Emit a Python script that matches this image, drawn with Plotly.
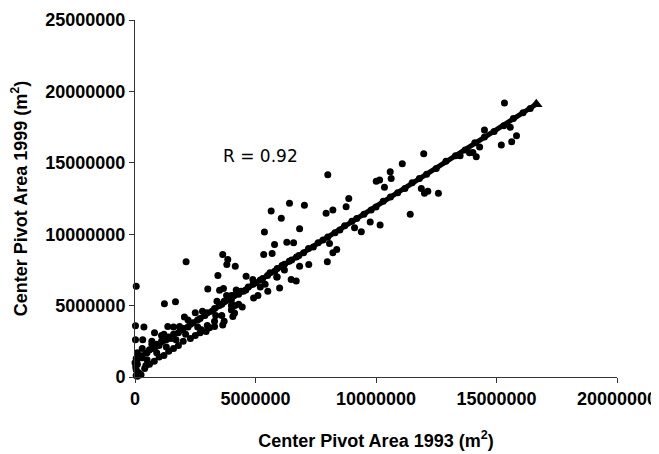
import plotly.graph_objects as go

# Observed center pivot areas (m^2): 1993 (x) vs 1999 (y)
area_1993 = [
    50000, 20000, 370000, 20000, 320000, 810000, 1220000, 1680000, 2120000, 2050000,
    1360000, 1850000, 3020000, 3440000, 3640000, 3850000, 3810000, 4160000, 3510000, 3670000,
    3640000, 3300000, 3090000, 2750000, 2950000, 4130000, 4060000, 4610000, 4890000, 4920000,
    5100000, 5510000, 5370000, 5650000, 6070000, 6410000, 7030000, 5340000, 5690000, 5790000,
    6300000, 6580000, 6830000, 6000000, 6480000, 6690000, 7210000, 6830000, 7980000, 8210000,
    8370000, 8070000, 7930000, 8210000, 8760000, 8870000, 9390000, 9760000, 10170000, 9110000,
    11420000, 8000000, 10010000, 10150000, 10590000, 10630000, 11090000, 11980000, 10350000, 11880000,
    12010000, 12150000, 12590000, 13490000, 14020000, 14160000, 14500000, 15200000, 15630000, 15830000,
    15330000, 15570000, 4000000, 5880000, 4450000, 3700000, 6200000, 4150000, 4000000, 3350000,
    5200000, 5400000, 13880000, 14300000, 5900000,
    # near the regression line
    100000, 200000, 300000, 500000, 600000, 800000, 900000, 1000000, 1100000, 1300000,
    1400000, 1500000, 1600000, 1800000, 1900000, 2000000, 2200000, 2300000, 2400000, 2600000,
    2700000, 2900000, 3000000, 3200000, 3300000, 3500000, 3600000, 3700000, 3900000, 4000000,
    4100000, 4300000, 4400000, 4600000, 4700000, 4900000, 5000000, 5200000, 5300000, 5500000,
    5600000, 5800000, 5900000, 6100000, 6200000, 6400000, 6500000, 6700000, 6800000, 7000000,
    7200000, 7400000, 7600000, 7800000, 8000000, 8300000, 8500000, 8700000, 9000000, 9200000,
    9500000, 9800000, 10000000, 10300000, 10600000, 10900000, 11200000, 11500000, 11800000, 12100000,
    12500000, 12900000, 13300000, 13700000, 14100000, 14500000, 14900000, 15300000, 15700000, 16100000,
    16400000,
    # lower band near the origin
    50000, 100000, 200000, 50000, 100000, 50000, 100000, 400000, 600000, 800000,
    1000000, 1200000, 1400000, 1600000, 1800000, 2000000, 2300000, 2500000, 2700000, 3000000,
    3300000, 3600000, 4000000, 4300000, 500000, 900000, 1300000, 1700000, 2100000, 2600000,
    300000, 700000, 1200000, 1600000, 2200000, 150000, 250000, 0, 30000, 450000,
    3800000, 4200000, 4500000, 3400000, 2800000, 1100000, 700000, 2500000,
]
area_1999 = [
    6350000, 3590000, 3500000, 2600000, 2600000, 3090000, 5130000, 5270000, 8070000, 4200000,
    3540000, 3540000, 6170000, 7100000, 8580000, 8230000, 7880000, 7760000, 6070000, 6190000,
    3640000, 3540000, 3450000, 3310000, 3190000, 4480000, 4240000, 7050000, 6820000, 5530000,
    5700000, 6000000, 10150000, 11620000, 11110000, 12170000, 12030000, 8580000, 8650000, 9280000,
    9440000, 9400000, 10390000, 6240000, 6820000, 6730000, 7880000, 7760000, 8070000, 8700000,
    8930000, 9350000, 11460000, 11690000, 11930000, 12500000, 10180000, 10850000, 10640000, 10460000,
    11390000, 14160000, 13710000, 13800000, 14370000, 13900000, 14930000, 15630000, 13290000, 13200000,
    12870000, 13010000, 12870000, 15490000, 15730000, 15420000, 17300000, 16240000, 16480000, 16900000,
    19180000, 17490000, 5000000, 7000000, 4900000, 3900000, 7500000, 5000000, 5700000, 4300000,
    6300000, 6500000, 15700000, 16100000, 7000000,
    # near the regression line
    1250000, 1500000, 1350000, 1700000, 1900000, 2000000, 2300000, 2200000, 2500000, 2600000,
    2800000, 2700000, 3000000, 3100000, 3300000, 3400000, 3500000, 3700000, 3800000, 4000000,
    4100000, 4300000, 4500000, 4600000, 4800000, 5000000, 5100000, 5300000, 5500000, 5400000,
    5700000, 5800000, 6000000, 6100000, 6300000, 6500000, 6600000, 6800000, 6900000, 7100000,
    7300000, 7400000, 7600000, 7800000, 7900000, 8100000, 8200000, 8400000, 8500000, 8700000,
    9000000, 9100000, 9400000, 9600000, 9800000, 10100000, 10300000, 10600000, 10900000, 11100000,
    11400000, 11700000, 11900000, 12300000, 12600000, 12900000, 13200000, 13600000, 13900000, 14200000,
    14600000, 15100000, 15500000, 15900000, 16400000, 16800000, 17200000, 17600000, 18100000, 18500000,
    18800000,
    # lower band near the origin
    100000, 50000, 200000, 500000, 900000, 1300000, 1700000, 600000, 900000, 1100000,
    1400000, 1500000, 1800000, 2000000, 2200000, 2500000, 2700000, 2900000, 3100000, 3600000,
    3900000, 4300000, 4700000, 5100000, 1200000, 1700000, 2100000, 2600000, 3000000, 3500000,
    2000000, 2500000, 3000000, 3500000, 4000000, 300000, 150000, 1000000, 700000, 800000,
    5700000, 6100000, 6000000, 5300000, 4600000, 2900000, 2300000, 4500000,
]

# Regression (predicted) line end points
fit_1993 = [0, 16650000]
fit_1999 = [1200000, 19100000]

x_ticks = [0, 5000000, 10000000, 15000000, 20000000]
y_ticks = [0, 5000000, 10000000, 15000000, 20000000, 25000000]

fig = go.Figure()
fig.add_trace(go.Scatter(
    x=area_1993, y=area_1999, mode="markers",
    marker=dict(color="black", size=7, line=dict(width=0)),
    cliponaxis=False, showlegend=False,
))
fig.add_trace(go.Scatter(
    x=fit_1993, y=fit_1999, mode="lines",
    line=dict(color="black", width=5),
    showlegend=False,
))
fig.add_trace(go.Scatter(
    x=fit_1993[-1:], y=fit_1999[-1:], mode="markers",
    marker=dict(color="black", size=11, symbol="triangle-up"),
    showlegend=False,
))

font_bold = "Liberation Sans, Arial, sans-serif"
# the page body adds an 8px offset, so the figure is sized to fit the window
fig.update_layout(
    width=651, height=446,
    margin=dict(l=127, r=42, t=12, b=77),
    plot_bgcolor="white", paper_bgcolor="white",
    font=dict(family=font_bold, color="black"),
    xaxis=dict(
        range=[0, 20000000], tickvals=x_ticks, ticktext=[f"<b>{v}</b>" for v in x_ticks],
        showgrid=False, zeroline=False, showline=True, linecolor="#333", linewidth=1,
        ticks="outside", ticklen=5, tickcolor="#333", automargin=False,
        tickfont=dict(size=18, color="black"),
        title=dict(text="<b>Center Pivot Area 1993 (m<sup>2</sup>)</b>",
                   font=dict(size=18, color="black"), standoff=26),
    ),
    yaxis=dict(
        range=[0, 25000000], tickvals=y_ticks, ticktext=[f"<b>{v}</b>" for v in y_ticks],
        showgrid=False, zeroline=False, showline=True, linecolor="#333", linewidth=1,
        ticks="outside", ticklen=5, tickcolor="#333", automargin=False,
        tickfont=dict(size=18, color="black"),
        title=dict(text="<b>Center Pivot Area 1999 (m<sup>2</sup>)</b>",
                   font=dict(size=18, color="black"), standoff=16),
    ),
    annotations=[dict(
        x=5200000, y=15500000, xref="x", yref="y", text="R = 0.92",
        showarrow=False, font=dict(size=17, color="black", family="DejaVu Sans, sans-serif"),
        xanchor="center", yanchor="middle",
    )],
)

fig.write_html("out.html")
